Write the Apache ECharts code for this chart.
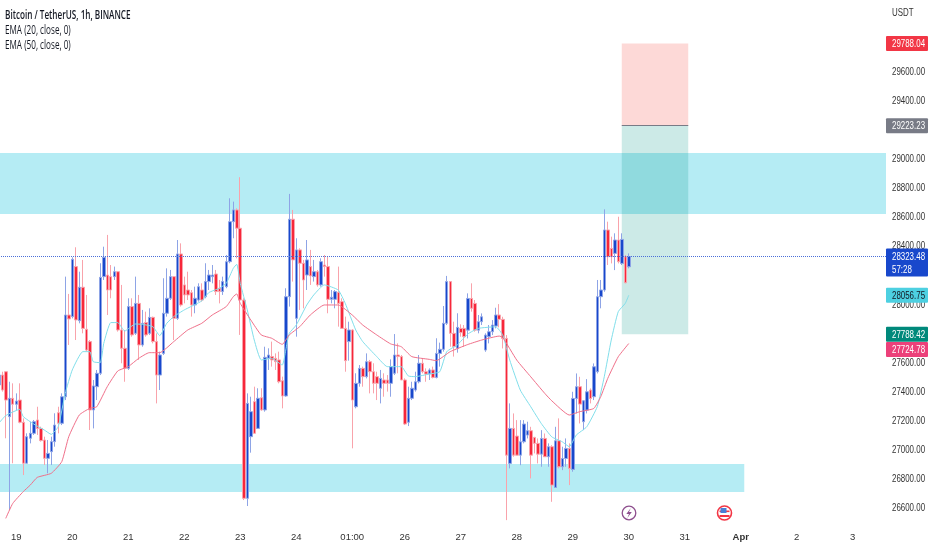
<!DOCTYPE html>
<html>
<head>
<meta charset="utf-8">
<title>BTCUSDT 1h</title>
<script src="https://cdn.jsdelivr.net/npm/echarts@6/dist/echarts.min.js"></script>
<style>
  html, body { margin: 0; padding: 0; background: #fff; }
  #chart { width: 932px; height: 550px; }
</style>
</head>
<body>
<div id="chart"></div>
<script>
// open, close, low, high
var candles = [
  [27440,27508,27279,27635],[27508,27405,27394,27531],[27531,27336,27073,27531],[27222,27348,26580,27462],
  [27348,27307,26901,27451],[27307,27329,27268,27382],[27336,27183,27176,27451],[27183,26901,26820,27210],
  [26901,27084,26901,27107],[27073,27107,27038,27187],[27107,27187,27096,27199],[27199,27141,27096,27290],
  [27141,27057,27050,27153],[27061,26935,26889,27084],[26935,26969,26832,27061],[26981,27050,26889,27084],
  [27050,27164,27015,27245],[27249,27176,27107,27290],[27176,27359,27164,27382],[27359,27921,27336,28185],
  [27921,27894,27715,28066],[27910,28304,27898,28318],[28254,27887,27749,28387],[27882,28112,27864,28219],
  [28112,27829,27795,28300],[27823,27680,27669,28059],[27738,27268,27130,27749],[27268,27433,27141,27474],
  [27428,27520,27336,27543],[27520,28180,27508,28277],[28185,28318,28162,28391],[28196,28093,27921,28472],
  [28185,28093,28036,28265],[28185,28219,28162,28254],[28219,27818,27807,28219],[27818,27692,27589,28128],
  [27692,27554,27462,27818],[27554,27979,27543,28036],[27979,27784,27772,28036],[27795,28001,27784,28185],
  [28001,27715,27612,28059],[27715,27864,27703,27956],[27869,27784,27772,27944],[27795,27905,27784,27967],
  [27905,27738,27726,27910],[27738,27508,27313,27795],[27508,27646,27405,27669],[27657,27933,27646,28174],
  [27933,28036,27910,28242],[28036,28185,28024,28231],[28185,27898,27749,28185],[27898,28341,27887,28437],
  [28341,27990,27979,28414],[28128,28059,28001,28185],[28093,28059,28024,28219],[28075,27990,27910,28093],
  [27990,28036,27933,28116],[28024,28116,28013,28139],[28093,28024,28013,28139],[28047,28151,28036,28277],
  [28151,28196,28093,28231],[28185,28196,28139,28265],[28203,28082,28059,28231],[28105,28082,28001,28162],
  [28082,28151,28059,28185],[28116,28288,28105,28334],[28288,28563,28277,28724],[28563,28644,28449,28701],
  [28644,28518,28311,28655],[28518,28024,27784,28869],[28024,26660,26648,28036],[26660,27313,26607,27382],
  [27084,27256,26974,27359],[27325,27107,27107,27428],[27141,27348,27141,27417],[27352,27268,27263,27417],
  [27268,27630,27256,27703],[27623,27646,27543,27692],[27635,27612,27566,27738],[27623,27600,27543,27657],
  [27612,27462,27451,27669],[27469,27364,27279,27497],[27364,28047,27359,28105],[28047,28580,27979,28754],
  [28580,28300,28151,28644],[27898,28369,27772,28449],[28369,28277,27956,28380],[28277,28162,27967,28300],
  [28196,28300,28093,28437],[28254,28190,28128,28369],[28185,28219,28151,28300],[28219,28128,28116,28231],
  [28128,28288,28116,28311],[28265,28254,28185,28334],[28254,28029,27933,28323],[28029,28043,28001,28093],
  [28029,28082,27967,28093],[28077,28001,27841,28254],[28013,27829,27829,28036],[27829,27607,27531,27910],
  [27738,27818,27607,27875],[27818,27336,27004,27823],[27290,27451,27279,27520],[27451,27554,27428,27577],
  [27554,27497,27428,27566],[27497,27600,27485,27657],[27600,27531,27382,27612],[27531,27451,27382,27589],
  [27497,27451,27336,27531],[27417,27485,27313,27543],[27474,27451,27359,27520],[27474,27451,27394,27508],
  [27451,27566,27359,27616],[27520,27646,27508,27790],[27646,27635,27520,27726],[27635,27474,27474,27646],
  [27474,27171,27164,27485],[27183,27348,27157,27428],[27348,27417,27336,27462],[27405,27462,27394,27531],
  [27462,27589,27451,27646],[27589,27531,27520,27623],[27531,27515,27462,27554],[27515,27543,27474,27554],
  [27543,27492,27485,27566],[27492,27657,27485,27761],[27657,27685,27566,27731],[27685,27864,27669,27983],
  [27864,28151,27852,28190],[28151,27795,27703,28151],[27795,27703,27635,27875],[27692,27836,27662,27933],
  [27829,27800,27772,27857],[27829,27772,27703,27852],[27817,28035,27760,28070],[28035,27967,27944,28139],
  [28001,27817,27806,28024],[27817,27875,27795,27921],[27875,27909,27852,27932],[27680,27783,27668,27795],
  [27772,27806,27726,27852],[27806,27852,27783,27886],[27845,27921,27829,27971],[27921,27891,27836,27996],
  [27891,27760,27691,27909],[27760,26957,26510,27783],[26900,27141,26866,27313],[27141,26957,26946,27244],
  [27088,26957,26957,27198],[26957,27049,26888,27198],[27049,27171,27038,27198],[27095,27125,27072,27187],
  [27125,26957,26797,27152],[27079,27038,26969,27083],[27038,26964,26900,27072],[26964,27072,26877,27129],
  [27072,26946,26946,27106],[26946,27015,26877,27038],[27015,26751,26636,27026],[26735,27056,26735,27152],
  [27056,26877,26866,27210],[26877,26934,26854,27015],[26934,27003,26877,27072],[27003,26866,26751,27038],
  [26859,27347,26843,27393],[27347,27428,27244,27519],[27428,27308,27175,27496],[27187,27331,27129,27336],
  [27267,27393,27244,27480],[27405,27347,27313,27416],[27359,27565,27336,27588],[27531,28047,27519,28162],
  [28047,28093,27967,28162],[28093,28506,28081,28648],[28506,28322,28265,28563],[28379,28322,28276,28460],
  [28345,28437,28230,28483],[28437,28288,28276,28597],[28276,28441,28265,28483],[28322,28143,28139,28334],
  [28253,28323.48,28242,28345]
];

// slot, price - every few bars
var ema20 = [
  [0,27176],[2,27229],[6,27272],[7,27222],[10,27171],[13,27130],[15,27100],[17,27153],[19,27382],[21,27543],
  [24,27669],[26,27669],[27,27600],[29,27593],[30,27726],[32,27869],[34,27869],[36,27811],[39,27859],[41,27857],
  [44,27841],[46,27779],[48,27864],[50,27910],[53,27956],[58,28018],[60,28075],[63,28105],[65,28139],[67,28242],
  [68,28270],[69,28139],[71,27956],[73,27749],[75,27612],[78,27623],[81,27577],[82,27680],[83,27795],[85,27852],
  [88,27990],[90,28059],[93,28128],[97,28093],[99,28001],[102,27818],[104,27738],[108,27635],[111,27566],[115,27566],
  [117,27502],[119,27497],[123,27515],[126,27531],[128,27669],[131,27715],[134,27790],[137,27829],[142,27840],[144,27783],
  [146,27611],[149,27405],[152,27290],[155,27175],[158,27083],[161,27049],[163,27015],[165,27095],[168,27152],[171,27290],
  [173,27496],[175,27749],[177,27944],[179,28001],[180,28056.75]
];
var ema50 = [
  [2,26522],[4,26625],[7,26706],[9,26751],[11,26804],[15,26832],[18,26912],[20,27084],[23,27233],[26,27279],
  [28,27290],[31,27428],[34,27536],[37,27566],[40,27623],[43,27662],[46,27662],[50,27738],[54,27818],[58,27864],
  [61,27921],[65,27979],[67,28047],[68,28066],[69,28001],[72,27887],[75,27784],[78,27761],[81,27719],[83,27784],
  [86,27841],[89,27921],[93,27990],[97,27990],[101,27921],[104,27852],[108,27784],[112,27722],[115,27703],[118,27635],
  [123,27616],[125,27607],[129,27669],[134,27718],[138,27749],[143,27776],[144,27767],[148,27611],[152,27496],[156,27382],
  [158,27331],[163,27233],[166,27256],[170,27278],[172,27359],[174,27485],[177,27634],[180,27724.78]
];

var SLOT_COUNT = 254;
var tickSlots = [5, 21, 37, 53, 69, 85, 101, 116, 132, 148, 164, 180, 196, 212, 228, 244];
var tickLabels = ['19', '20', '21', '22', '23', '24', '01:00', '26', '27', '28', '29', '30', '31', 'Apr', '2', '3'];
var priceTicks = [26600, 26800, 27000, 27200, 27400, 27600, 28000, 28400, 28600, 28800, 29000, 29400, 29600];

var lastPrice = 28323.48;
var entryPrice = 29223.23;
var stopPrice = 29788.04;
var targetPrice = 27788.42;
var upperZone = [29036, 28616];
var lowerZone = [26896, 26703];

var tagValues = [29788.04, 29223.23, 28323.48, 28056.75, 27788.42, 27724.78];
var tagColors = ['#f23645', '#787b86', '#1848cc', '#4dd0e1', '#00897b', '#ec407a'];
var tagInk = ['#fff', '#fff', '#fff', '#131722', '#fff', '#fff'];

var categories = [];
for (var s = 0; s < SLOT_COUNT; s++) categories.push('');
tickSlots.forEach(function (slot, i) { categories[slot] = tickLabels[i]; });

var FONT = '"Liberation Sans", sans-serif';
var HEAD_FONT = '"Open Sans", sans-serif';
// the reference screenshot is squeezed sideways, the text with it
var SQUEEZE = 0.72;

function scaleText(x, y, text, fill) {
  return {
    type: 'text', x: x, y: y, scaleX: SQUEEZE,
    style: { x: 0, y: 0, text: text, fill: fill, font: '11px ' + FONT, verticalAlign: 'middle' }
  };
}

function renderPriceLabel(params, api) {
  var y = api.coord([0, api.value(1)])[1];
  return scaleText(892, y + 1, api.value(1).toFixed(2), '#333');
}

function renderTag(params, api) {
  var i = api.value(2);
  var y = api.coord([0, api.value(1)])[1];
  var isLast = tagValues[i] === lastPrice;
  // the bottom two tags collide, TradingView pushes the lower one down
  if (tagValues[i] === 27724.78) y += 6;
  var h = isLast ? 28 : 15;
  var top = isLast ? y - 8 : y - h / 2;
  var children = [
    { type: 'rect', shape: { x: 886, y: top, width: 42, height: h, r: 1 }, style: { fill: tagColors[i] } },
    scaleText(892, top + 8, tagValues[i].toFixed(2), tagInk[i])
  ];
  if (isLast) children.push(scaleText(892, top + 21, '57:28', '#fff'));
  return { type: 'group', children: children };
}

var chart = echarts.init(document.getElementById('chart'), null, { renderer: 'canvas' });
chart.setOption({
  animation: false,
  backgroundColor: '#fff',
  grid: { left: -3, width: 889, top: 0, height: 521, outerBoundsMode: 'none' },
  xAxis: {
    type: 'category',
    data: categories,
    boundaryGap: true,
    axisLine: { show: false },
    axisTick: { show: false },
    splitLine: { show: false },
    axisLabel: {
      interval: function (i, v) { return v !== ''; },
      hideOverlap: false,
      margin: 11,
      color: '#333',
      fontFamily: FONT,
      fontSize: 9.5,
      formatter: function (v) { return v === 'Apr' ? '{b|Apr}' : v; },
      rich: { b: { fontWeight: 'bold', color: '#333', fontFamily: FONT, fontSize: 9.5 } }
    }
  },
  yAxis: {
    type: 'value',
    position: 'right',
    scale: true,
    min: 26504,
    max: 30088,
    axisLine: { show: false },
    axisTick: { show: false },
    splitLine: { show: false },
    axisLabel: { show: false }
  },
  graphic: [
    { type: 'text', x: 5, y: 16, scaleX: 0.68, style: { text: 'Bitcoin / TetherUS, 1h, BINANCE', font: '600 12px ' + HEAD_FONT, fill: '#131722', verticalAlign: 'middle' } },
    { type: 'text', x: 5, y: 31, scaleX: 0.68, style: { text: 'EMA (20, close, 0)', font: '12px ' + HEAD_FONT, fill: '#131722', verticalAlign: 'middle' } },
    { type: 'text', x: 5, y: 46, scaleX: 0.68, style: { text: 'EMA (50, close, 0)', font: '12px ' + HEAD_FONT, fill: '#131722', verticalAlign: 'middle' } },
    { type: 'text', x: 892, y: 13, scaleX: SQUEEZE, style: { text: 'USDT', font: '11px ' + FONT, fill: '#333', verticalAlign: 'middle' } },
    // event markers on the time scale
    { type: 'circle', shape: { cx: 629, cy: 513, r: 6.8 }, style: { fill: '#fff', stroke: '#8e4f8e', lineWidth: 1.3 } },
    { type: 'polygon', shape: { points: [[630.8, 508], [626.3, 514], [629, 514], [627.3, 518], [631.8, 512], [629, 512]] }, style: { fill: '#8e4f8e' } },
    { type: 'circle', shape: { cx: 724.5, cy: 513, r: 7 }, style: { fill: '#fff', stroke: '#f23645', lineWidth: 1.6 } },
    { type: 'rect', shape: { x: 719.5, y: 510.5, width: 10, height: 1.6 }, style: { fill: '#f23645' } },
    { type: 'rect', shape: { x: 719.5, y: 515, width: 10, height: 2 }, style: { fill: '#f23645' } },
    { type: 'rect', shape: { x: 720.5, y: 508, width: 6, height: 5 }, style: { fill: '#4a7fd6' } }
  ],
  series: [
    {
      name: 'zones',
      type: 'line',
      data: [],
      silent: true,
      z: 1,
      markArea: {
        silent: true,
        data: [
          [{ yAxis: upperZone[0], itemStyle: { color: '#b5ecf4' } }, { yAxis: upperZone[1] }],
          [{ xAxis: 0, yAxis: lowerZone[0], itemStyle: { color: '#b5ecf4' } }, { xAxis: 213, yAxis: lowerZone[1] }]
        ],
        label: { show: false }
      }
    },
    {
      name: 'position',
      type: 'line',
      data: [],
      silent: true,
      z: 3,
      markArea: {
        silent: true,
        data: [
          [{ xAxis: 178, yAxis: stopPrice, itemStyle: { color: 'rgba(244,67,54,0.2)' } }, { xAxis: 197, yAxis: entryPrice }],
          [{ xAxis: 178, yAxis: entryPrice, itemStyle: { color: 'rgba(0,150,136,0.2)' } }, { xAxis: 197, yAxis: targetPrice }]
        ],
        label: { show: false }
      },
      markLine: {
        silent: true,
        symbol: 'none',
        label: { show: false },
        lineStyle: { color: '#787b86', type: 'solid', width: 1 },
        data: [[{ xAxis: 178, yAxis: entryPrice }, { xAxis: 197, yAxis: entryPrice }]]
      }
    },
    {
      name: 'BTCUSDT',
      type: 'candlestick',
      data: candles,
      barWidth: 3,
      z: 4,
      itemStyle: {
        color: '#1848cc',
        color0: '#f7273a',
        borderColor: '#8ea4e6',
        borderColor0: '#f9a3ab',
        borderWidth: 1
      },
      markLine: {
        silent: true,
        symbol: 'none',
        label: { show: false },
        lineStyle: { color: '#4a6fd8', type: 'dotted', width: 1 },
        data: [{ yAxis: lastPrice }]
      }
    },
    {
      name: 'EMA 20',
      type: 'line',
      data: ema20,
      showSymbol: false,
      smooth: 0.15,
      z: 5,
      lineStyle: { color: '#80deea', width: 1 }
    },
    {
      name: 'EMA 50',
      type: 'line',
      data: ema50,
      showSymbol: false,
      smooth: 0.15,
      z: 5,
      lineStyle: { color: '#f0708a', width: 1 }
    },
    {
      name: 'price scale',
      type: 'custom',
      silent: true,
      z: 9,
      renderItem: renderPriceLabel,
      data: priceTicks.map(function (v) { return [0, v]; })
    },
    {
      name: 'tags',
      type: 'custom',
      silent: true,
      z: 10,
      renderItem: renderTag,
      data: tagValues.map(function (v, i) { return [0, v, i]; })
    }
  ]
});
</script>
</body>
</html>
